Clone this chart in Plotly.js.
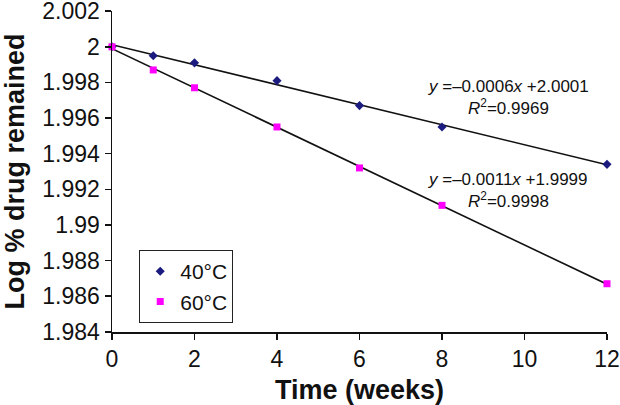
<!DOCTYPE html>
<html>
<head>
<meta charset="utf-8">
<script src="https://cdn.plot.ly/plotly-3.0.1.min.js"></script>
<style>
	body { margin: 0; background: #fff; }
	#chart { width: 620px; height: 405px; }
</style>
</head>
<body>
<div id="chart"></div>
<script>
// data
var weeks = [0, 1, 2, 4, 6, 8, 12];
var log40 = [2.0000, 1.9995, 1.9991, 1.9981, 1.9967, 1.9955, 1.9934];
var log60 = [2.0000, 1.9987, 1.9977, 1.9955, 1.9932, 1.9911, 1.9867];
var seriesNames = ['40°C', '60°C'];
var eqText = ['<i>y</i> =\u20130.0006<i>x</i> +2.0001', '<i>y</i> =\u20130.0011<i>x</i> +1.9999'];
var r2Text = ['<i>R</i><sup>2</sup>=0.9969', '<i>R</i><sup>2</sup>=0.9998'];
var yTicks = [1.984, 1.986, 1.988, 1.99, 1.992, 1.994, 1.996, 1.998, 2, 2.002];
var yTickText = ['1.984', '1.986', '1.988', '1.99', '1.992', '1.994', '1.996', '1.998', '2', '2.002'];

var FONT = 'Arial, "Liberation Sans", sans-serif';

// least squares fit, like the excel trendline
function fit(xs, ys) {
	var n = xs.length, sx = 0, sy = 0, sxx = 0, sxy = 0;
	for (var i = 0; i < n; i++) {
		sx += xs[i]; sy += ys[i];
		sxx += xs[i] * xs[i]; sxy += xs[i] * ys[i];
	}
	var m = (n * sxy - sx * sy) / (n * sxx - sx * sx);
	var b = (sy - m * sx) / n;
	var x0 = Math.min.apply(null, xs), x1 = Math.max.apply(null, xs);
	return {x: [x0, x1], y: [m * x0 + b, m * x1 + b]};
}

var f40 = fit(weeks, log40);
var f60 = fit(weeks, log60);

var trend40 = {
	x: f40.x, y: f40.y, type: 'scatter', mode: 'lines',
	line: {color: '#111', width: 1.6}, showlegend: false, hoverinfo: 'skip'
};
var trend60 = {
	x: f60.x, y: f60.y, type: 'scatter', mode: 'lines',
	line: {color: '#111', width: 1.6}, showlegend: false, hoverinfo: 'skip'
};
var pts40 = {
	x: weeks, y: log40, name: seriesNames[0], type: 'scatter', mode: 'markers',
	cliponaxis: false,
	marker: {symbol: 'diamond', size: 7, color: '#1c1c80'}
};
var pts60 = {
	x: weeks, y: log60, name: seriesNames[1], type: 'scatter', mode: 'markers',
	cliponaxis: false,
	marker: {symbol: 'square', size: 7, color: '#ff00ff'}
};

var annFont = {family: FONT, size: 17, color: '#111'};
function ann(text, x, y) {
	return {text: text, xref: 'paper', yref: 'paper', x: x, y: y,
		xanchor: 'center', yanchor: 'middle', showarrow: false,
		borderpad: 0, font: annFont};
}

var layout = {
	width: 620,
	height: 405,
	margin: {l: 112, r: 13, t: 11, b: 73},
	paper_bgcolor: '#fff',
	plot_bgcolor: '#fff',
	font: {family: FONT, color: '#111'},
	showlegend: true,
	legend: {
		x: 0.055, y: 0.255, xanchor: 'left', yanchor: 'top',
		bgcolor: '#fff', bordercolor: '#222', borderwidth: 1,
		font: {family: FONT, size: 21, color: '#111'},
		tracegroupgap: 0
	},
	xaxis: {
		range: [0, 12], dtick: 2, tick0: 0,
		showgrid: false, zeroline: false,
		showline: true, linecolor: '#111', linewidth: 1.5,
		ticks: 'outside', ticklen: 6, tickcolor: '#111', tickwidth: 1.5,
		tickfont: {family: FONT, size: 23, color: '#111'},
		title: {text: '<b>Time (weeks)</b>', font: {family: FONT, size: 27, color: '#111'}, standoff: 10}
	},
	yaxis: {
		range: [1.98399, 2.00201],
		tickvals: yTicks, ticktext: yTickText,
		ticklabeloverflow: 'allow',
		showgrid: false, zeroline: false,
		showline: true, linecolor: '#111', linewidth: 1.5,
		ticks: 'outside', ticklen: 6, tickcolor: '#111', tickwidth: 1.5,
		tickfont: {family: FONT, size: 23, color: '#111'},
		title: {text: '<b>Log % drug remained</b>', font: {family: FONT, size: 27, color: '#111'}, standoff: 16}
	},
	annotations: [
		ann(eqText[0], 0.8, 0.765),
		ann(r2Text[0], 0.8, 0.70),
		ann(eqText[1], 0.8, 0.475),
		ann(r2Text[1], 0.8, 0.41)
	]
};

Plotly.newPlot('chart', [trend40, trend60, pts40, pts60], layout, {staticPlot: true, displayModeBar: false});
</script>
</body>
</html>
